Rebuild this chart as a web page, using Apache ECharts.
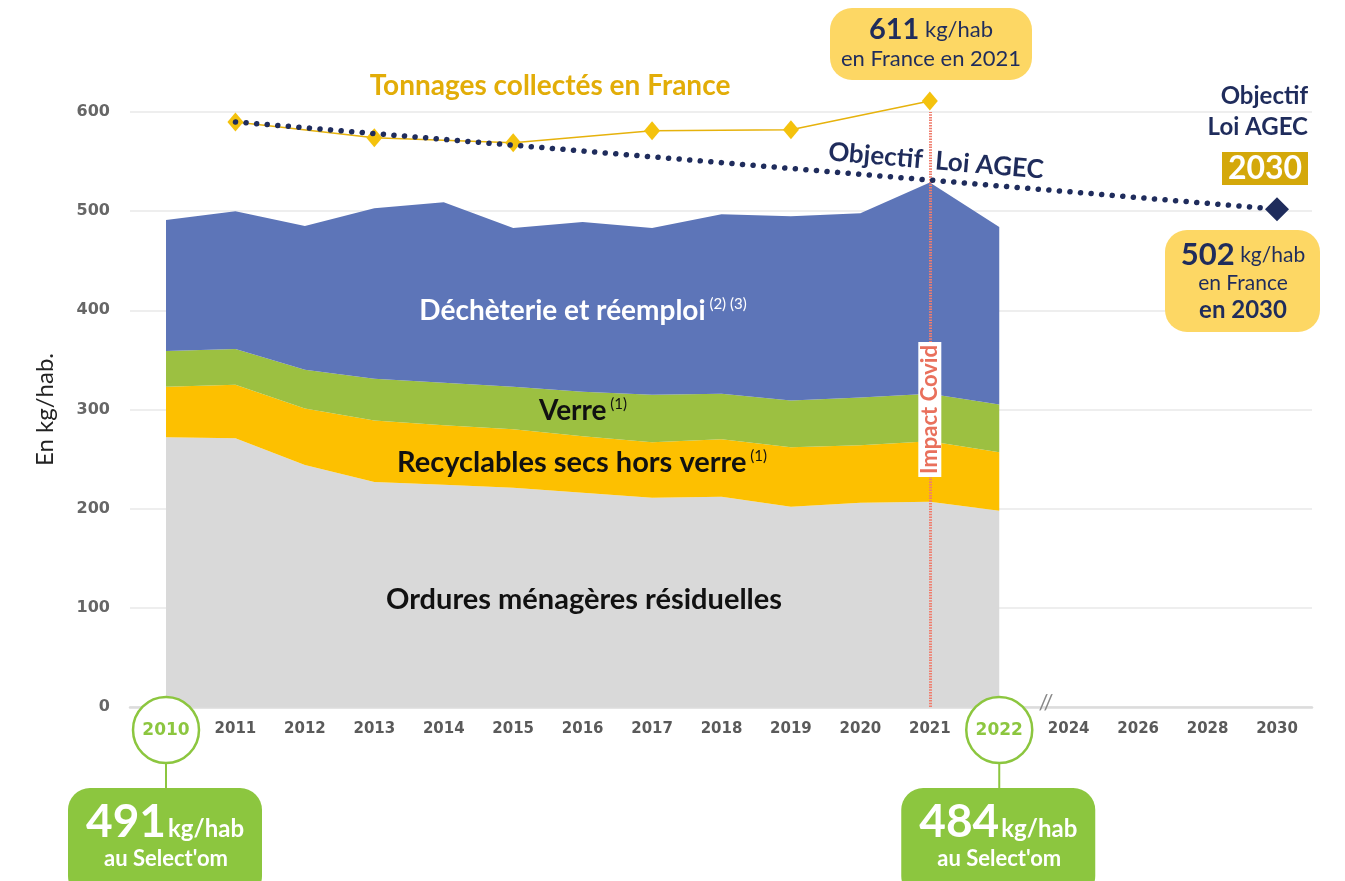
<!DOCTYPE html>
<html>
<head>
<meta charset="utf-8">
<script src="https://cdn.jsdelivr.net/npm/echarts@6/dist/echarts.min.js"></script>
<style>
html,body{margin:0;padding:0;background:#fff;}
#main{width:1345px;height:881px;}
</style>
</head>
<body>
<div id="main"></div>
<script>
// donnees kg/hab
var years = ['2010','2011','2012','2013','2014','2015','2016','2017','2018','2019','2020','2021','2022','2024','2026','2028','2030'];
var omr = [272,271,244,227,224,221,216,211,212,202,206,207,198];
var recyclables = [51,54,57,62,60,59,57,56,58,60,58,61,59];
var verre = [36,36,39,42,43,43,45,48,46,47,48,48,48];
var decheterie = [132,139,145,172,182,160,171,168,181,186,186,213,179];
var france = [null,590,null,574,null,569,null,581,null,582,null,611,null,null,null,null,null];
var objectif = [null,590,null,null,null,null,null,null,null,null,null,null,null,null,null,null,502];
var yTicks = [0,100,200,300,400,500,600];

var green = '#8cc63f';
var navy = '#1f2c5c';
var gold = '#e2ad08';

var chart = echarts.init(document.getElementById('main'));

function areaSeries(name, data, color) {
    return {
        name: name,
        type: 'line',
        xAxisIndex: 0,
        yAxisIndex: 0,
        stack: 'total',
        data: data,
        symbol: 'none',
        color: color,
        lineStyle: {width: 0},
        areaStyle: {color: color, opacity: 1},
        z: 2
    };
}

var objectifData = [];
for (var i = 0; i < objectif.length; i++) {
    var v = objectif[i];
    if (v == null) {
        objectifData.push(null);
    } else if (i == objectif.length - 1) {
        objectifData.push({value: v, symbol: 'diamond', symbolSize: 24, itemStyle: {color: navy}});
    } else {
        objectifData.push({value: v, symbol: 'none'});
    }
}

option = {
    animation: false,
    grid: [
        {left: 166, right: 68, top: 112, bottom: 174},
        {left: 130, right: 33, top: 112, bottom: 174}
    ],
    xAxis: [
        {
            type: 'category', gridIndex: 0, data: years, boundaryGap: false, z: 10,
            axisLine: {show: false}, axisTick: {show: false}, splitLine: {show: false},
            axisLabel: {
                margin: 15, interval: 0, fontFamily: 'DejaVu Sans', fontSize: 15, fontWeight: 'bold', color: '#5a5a5a',
                formatter: function (v) {
                    if (v == '2010' || v == '2022') return '{g|' + v + '}';
                    return v;
                },
                rich: {g: {color: green, fontFamily: 'DejaVu Sans', fontSize: 17, fontWeight: 'bold'}}
            }
        },
        {
            type: 'value', gridIndex: 1, min: 0, max: 1,
            axisLine: {show: true, lineStyle: {color: '#dcdcdc', width: 2.5}},
            axisTick: {show: false}, axisLabel: {show: false}, splitLine: {show: false}
        }
    ],
    yAxis: [
        {type: 'value', gridIndex: 0, min: yTicks[0], max: yTicks[yTicks.length - 1], interval: 100, show: false},
        {
            type: 'value', gridIndex: 1, min: yTicks[0], max: yTicks[yTicks.length - 1], interval: 100,
            name: 'En kg/hab.', nameLocation: 'middle', nameGap: 73,
            nameTextStyle: {fontFamily: 'Lato', fontSize: 24, color: '#222'},
            axisLine: {show: false}, axisTick: {show: false},
            axisLabel: {margin: 20, fontFamily: 'DejaVu Sans', fontSize: 16, fontWeight: 'bold', color: '#666'},
            splitLine: {lineStyle: {color: '#e8e8e8', width: 1.5}}
        }
    ],
    series: [
        areaSeries('Ordures ménagères résiduelles', omr, '#d9d9d9'),
        areaSeries('Recyclables secs hors verre', recyclables, '#fdc000'),
        areaSeries('Verre', verre, '#9cc041'),
        areaSeries('Déchèterie et réemploi', decheterie, '#5d75b8'),
        {
            name: 'Tonnages collectés en France',
            type: 'line',
            data: france,
            clip: false,
            connectNulls: true,
            symbol: 'diamond',
            symbolSize: [16, 19],
            itemStyle: {color: '#f4c20d'},
            lineStyle: {color: '#e6b20c', width: 1.5},
            z: 4,
            markLine: {
                silent: true,
                symbol: 'none',
                lineStyle: {color: '#ef7d6d', width: 3, type: [1.5, 1.2]},
                label: {
                    show: true, position: 'middle', formatter: 'Impact Covid', distance: 0,
                    verticalAlign: 'middle',
                    color: '#e9705c', fontFamily: 'Lato', fontWeight: 'bold', fontSize: 22,
                    backgroundColor: '#fff', padding: [1, 3, 0, 3]
                },
                data: [{xAxis: '2021'}]
            }
        },
        {
            name: 'Objectif Loi AGEC',
            type: 'line',
            data: objectifData,
            clip: false,
            connectNulls: true,
            showSymbol: true,
            lineStyle: {color: navy, width: 5.5, type: [0.1, 10.5], cap: 'round'},
            itemStyle: {color: navy},
            z: 6
        }
    ]
};
chart.setOption(option);

function badge(year, value) {
    var p = chart.convertToPixel({xAxisIndex: 0, yAxisIndex: 0}, [year, 0]);
    var cx = p[0];
    var cy = p[1] + 23;
    return [
        {type: 'circle', z: 5, shape: {cx: cx, cy: cy, r: 33}, style: {fill: '#fff', stroke: green, lineWidth: 2.5}},
        {type: 'line', z: 5, shape: {x1: cx, y1: cy + 33, x2: cx, y2: 790}, style: {stroke: green, lineWidth: 2}},
        {type: 'rect', z: 5, shape: {x: cx - 98, y: 788, width: 194, height: 110, r: 22}, style: {fill: green}},
        {
            type: 'text', z: 6,
            style: {
                text: '{b|' + value + '}{u|kg/hab}', x: cx - 1, y: 822, align: 'center', verticalAlign: 'middle',
                rich: {
                    b: {fontFamily: 'Lato', fontSize: 46, fontWeight: 'bold', fill: '#fff', verticalAlign: 'bottom'},
                    u: {fontFamily: 'Lato', fontSize: 24, fontWeight: 'bold', fill: '#fff', verticalAlign: 'bottom', padding: [0, 0, 4, 2]}
                }
            }
        },
        {
            type: 'text', z: 6,
            style: {text: "au Select'om", x: cx, y: 859, align: 'center', verticalAlign: 'middle',
                fontFamily: 'Lato', fontSize: 22, fontWeight: 'bold', fill: '#fff'}
        }
    ];
}

var graphics = [
    {type: 'text', z: 10, style: {text: 'Tonnages collectés en France', x: 550, y: 86, align: 'center', verticalAlign: 'middle',
        fontFamily: 'Lato', fontSize: 28, fontWeight: 'bold', fill: gold}},
    {type: 'rect', z: 10, shape: {x: 830, y: 8, width: 202, height: 72, r: 22}, style: {fill: '#fdd764'}},
    {type: 'text', z: 11, style: {text: '{b|611}{n| kg/hab}\n{n|en France en 2021}', x: 931, y: 44, align: 'center', verticalAlign: 'middle',
        rich: {
            b: {fontFamily: 'Lato', fontSize: 29, fontWeight: 'bold', fill: navy, lineHeight: 30},
            n: {fontFamily: 'Lato', fontSize: 22, fill: navy, lineHeight: 28}
        }}},
    {type: 'text', z: 10, rotation: -0.085, x: 936, y: 161, style: {text: 'Objectif  Loi AGEC', x: 0, y: 0, align: 'center', verticalAlign: 'middle',
        fontFamily: 'Lato', fontSize: 26, fontWeight: 'bold', fill: navy}},
    {type: 'text', z: 10, style: {text: 'Objectif\nLoi AGEC', x: 1308, y: 112, align: 'right', verticalAlign: 'middle',
        fontFamily: 'Lato', fontSize: 24, fontWeight: 'bold', fill: navy, lineHeight: 31}},
    {type: 'rect', z: 10, shape: {x: 1222, y: 152, width: 86, height: 33}, style: {fill: '#d4a80a'}},
    {type: 'text', z: 11, style: {text: '2030', x: 1265, y: 169, align: 'center', verticalAlign: 'middle',
        fontFamily: 'Lato', fontSize: 32, fontWeight: 'bold', fill: '#fff'}},
    {type: 'rect', z: 10, shape: {x: 1165, y: 230, width: 155, height: 102, r: 22}, style: {fill: '#fdd764'}},
    {type: 'text', z: 11, style: {text: '{b|502}{n| kg/hab}\n{n|en France}\n{m|en 2030}', x: 1243, y: 282, align: 'center', verticalAlign: 'middle',
        rich: {
            b: {fontFamily: 'Lato', fontSize: 31, fontWeight: 'bold', fill: navy, lineHeight: 30},
            n: {fontFamily: 'Lato', fontSize: 21, fill: navy, lineHeight: 26},
            m: {fontFamily: 'Lato', fontSize: 24, fontWeight: 'bold', fill: navy, lineHeight: 28}
        }}},
    {type: 'text', z: 10, style: {text: '{t|Déchèterie et réemploi}{s| (2) (3)}', x: 583, y: 311, align: 'center', verticalAlign: 'middle',
        rich: {
            t: {fontFamily: 'Lato', fontSize: 28, fontWeight: 'bold', fill: '#fff'},
            s: {fontFamily: 'Lato', fontSize: 15, fill: '#fff', padding: [0, 0, 14, 0]}
        }}},
    {type: 'text', z: 10, style: {text: '{t|Verre}{s| (1)}', x: 583, y: 411, align: 'center', verticalAlign: 'middle',
        rich: {
            t: {fontFamily: 'Lato', fontSize: 28, fontWeight: 'bold', fill: '#111'},
            s: {fontFamily: 'Lato', fontSize: 15, fill: '#111', padding: [0, 0, 14, 0]}
        }}},
    {type: 'text', z: 10, style: {text: '{t|Recyclables secs hors verre}{s| (1)}', x: 582, y: 463, align: 'center', verticalAlign: 'middle',
        rich: {
            t: {fontFamily: 'Lato', fontSize: 29, fontWeight: 'bold', fill: '#111'},
            s: {fontFamily: 'Lato', fontSize: 15, fill: '#111', padding: [0, 0, 14, 0]}
        }}},
    {type: 'text', z: 10, style: {text: 'Ordures ménagères résiduelles', x: 584, y: 600, align: 'center', verticalAlign: 'middle',
        fontFamily: 'Lato', fontSize: 29, fontWeight: 'bold', fill: '#111'}},
    {type: 'text', z: 10, style: {text: '//', x: 1046, y: 703, align: 'center', verticalAlign: 'middle',
        fontFamily: 'Lato', fontSize: 22, fill: '#888'}}
];
graphics = graphics.concat(badge('2010', 491)).concat(badge('2022', 484));
chart.setOption({graphic: graphics});
</script>
</body>
</html>
